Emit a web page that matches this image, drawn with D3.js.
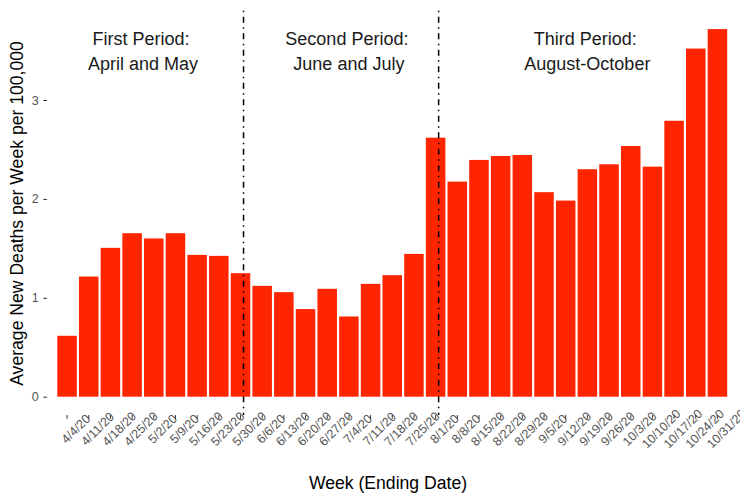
<!DOCTYPE html>
<html>
<head>
<meta charset="utf-8">
<script src="https://cdn.jsdelivr.net/npm/d3@7"></script>
<style>
  html, body { margin: 0; padding: 0; background: #fff; }
  svg { display: block; }
  svg text { font-family: "Liberation Sans", Arial, Helvetica, sans-serif; }
</style>
</head>
<body>
<svg id="chart" width="740" height="496"></svg>
<script>
// ---- data ----
const weeks = ["4/4/20","4/11/20","4/18/20","4/25/20","5/2/20","5/9/20","5/16/20","5/23/20",
  "5/30/20","6/6/20","6/13/20","6/20/20","6/27/20","7/4/20","7/11/20","7/18/20","7/25/20",
  "8/1/20","8/8/20","8/15/20","8/22/20","8/29/20","9/5/20","9/12/20","9/19/20","9/26/20",
  "10/3/20","10/10/20","10/17/20","10/24/20","10/31/20"];
const deaths = [0.616, 1.215, 1.505, 1.653, 1.600, 1.653, 1.434, 1.424,
  1.249, 1.121, 1.057, 0.886, 1.091, 0.811, 1.141, 1.229, 1.444,
  2.619, 2.175, 2.394, 2.434, 2.444, 2.068, 1.983, 2.300, 2.350,
  2.535, 2.326, 2.790, 3.520, 3.717];
const yTicks = [0, 1, 2, 3];
// period boundaries (week position, 1 = first week)
const periodBreaks = [9.14, 18.14];
const periodPos = [4.5, 14, 25];
const periodLines = [["First Period:", "April and May"],
                     ["Second Period:", "June and July"],
                     ["Third Period:", "August-October"]];
const xTitle = "Week (Ending Date)";
const yTitle = "Average New Deaths per Week per 100,000";

// ---- layout ----
const svg = d3.select("#chart");
const panelLeft = 47;
const yMax = d3.max(deaths);
const y = d3.scaleLinear().domain([0, 3]).range([396.7, 100]);
const panelTop = y(yMax * 1.05);
const panelBottom = y(-yMax * 0.05);

const x = d3.scaleBand().domain(weeks).range([54.05, 730.45])
  .paddingInner(0.1).paddingOuter(0.15);
const bw = x.bandwidth();
const xPos = p => x(weeks[0]) + bw / 2 + (p - 1) * x.step();

const barColor = "#FF2500";
const fontStack = "'Liberation Sans', Arial, Helvetica, sans-serif";

// bars
svg.append("g").selectAll("rect").data(weeks).join("rect")
  .attr("x", d => x(d))
  .attr("width", bw)
  .attr("y", (d, i) => y(deaths[i]))
  .attr("height", (d, i) => y(0) - y(deaths[i]))
  .attr("fill", barColor);

// period divider lines
svg.append("g").selectAll("line").data(periodBreaks).join("line")
  .attr("x1", d => xPos(d)).attr("x2", d => xPos(d))
  .attr("y1", panelTop).attr("y2", panelBottom)
  .attr("stroke", "#000").attr("stroke-width", 1.5)
  .attr("stroke-dasharray", "1.5 4.5 6 4.5");

// period labels
const pl = svg.append("g").attr("text-anchor", "middle");
periodLines.forEach((lines, i) => {
  pl.append("text").attr("x", xPos(periodPos[i]) - 2).attr("y", 45).text(lines[0]);
  pl.append("text").attr("x", xPos(periodPos[i])).attr("y", 70).text(lines[1]);
});
pl.selectAll("text").style("font-size", "18px").style("fill", "#1a1a1a").style("font-family", fontStack);

// y axis
const yAxis = d3.axisLeft(y).tickValues(yTicks).tickSize(3.7).tickPadding(4.5).tickFormat(d3.format("d"));
const yg = svg.append("g").attr("transform", `translate(${panelLeft},0)`).call(yAxis);
yg.attr("font-family", null).attr("font-size", null);
yg.select(".domain").remove();
yg.selectAll(".tick line").attr("stroke", "#333");
yg.selectAll(".tick text").style("fill", "#555").style("font-size", "12.5px").style("font-family", fontStack);

// x axis
const xAxis = d3.axisBottom(x).tickSize(3.7).tickPadding(0);
const xg = svg.append("g").attr("transform", `translate(0,${panelBottom})`).call(xAxis);
xg.attr("font-family", null).attr("font-size", null);
xg.select(".domain").remove();
xg.selectAll(".tick line").attr("stroke", "#333");
xg.selectAll(".tick text")
  .style("fill", "#555").style("font-size", "12.5px").style("font-family", fontStack)
  .attr("text-anchor", "middle")
  .attr("dominant-baseline", "central")
  .attr("dy", null)
  .attr("y", null)
  .attr("transform", "translate(9,14) rotate(-45)");

// axis titles
svg.append("text").attr("x", 388).attr("y", 489).attr("text-anchor", "middle")
  .style("font-size", "17.6px").style("fill", "#000").style("font-family", fontStack).text(xTitle);
svg.append("text").attr("transform", "translate(23,213.5) rotate(-90)")
  .attr("text-anchor", "middle")
  .style("font-size", "17.6px").style("fill", "#000").style("font-family", fontStack).text(yTitle);
</script>
</body>
</html>
